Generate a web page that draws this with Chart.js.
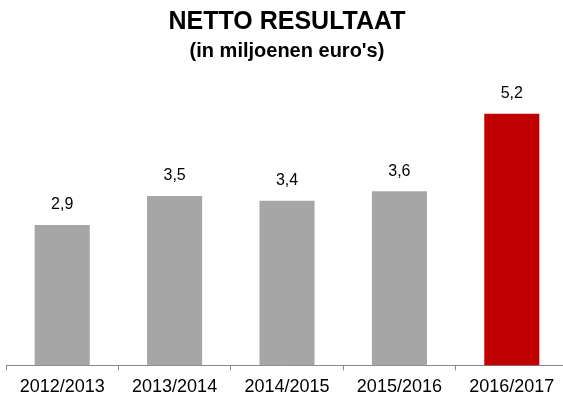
<!DOCTYPE html>
<html>
<head>
<meta charset="utf-8">
<script src="https://cdn.jsdelivr.net/npm/chart.js@4/dist/chart.umd.min.js"></script>
<style>
  html, body { margin: 0; padding: 0; background: #fff; overflow: hidden; }
  #wrap { width: 570px; height: 405px; }
</style>
</head>
<body>
<div id="wrap"><canvas id="netto"></canvas></div>
<script>
var categories = ['2012/2013', '2013/2014', '2014/2015', '2015/2016', '2016/2017'];
var values = [2.9, 3.5, 3.4, 3.6, 5.2];
var barColors = ['#a6a6a6', '#a6a6a6', '#a6a6a6', '#a6a6a6', '#c00000'];

Chart.defaults.font.family = '"Liberation Sans", Arial, sans-serif';
Chart.defaults.color = '#000';

// labels above the bars, comma as decimal sign
var valueLabels = {
  id: 'valueLabels',
  afterDatasetsDraw: function(chart) {
    var ctx = chart.ctx;
    var meta = chart.getDatasetMeta(0);
    ctx.save();
    ctx.font = '16px "Liberation Sans", Arial, sans-serif';
    ctx.fillStyle = '#000';
    ctx.textAlign = 'center';
    ctx.textBaseline = 'middle';
    meta.data.forEach(function(bar, i) {
      ctx.fillText(values[i].toFixed(1).replace('.', ','), bar.x, bar.y - 20);
    });
    ctx.restore();
  }
};

var ctx = document.getElementById('netto');
var myChart = new Chart(ctx, {
  type: 'bar',
  data: {
    labels: categories,
    datasets: [{
      data: values,
      backgroundColor: barColors,
      borderWidth: 0,
      barPercentage: 0.49,
      categoryPercentage: 1
    }]
  },
  options: {
    responsive: true,
    maintainAspectRatio: false,
    animation: false,
    layout: { padding: { left: 6, right: 2, top: 0, bottom: 1 } },
    plugins: {
      legend: { display: false },
      tooltip: { enabled: false },
      title: {
        display: true,
        text: 'NETTO RESULTAAT',
        font: { size: 25, weight: 'bold' },
        color: '#000',
        padding: { top: 7, bottom: 0 }
      },
      subtitle: {
        display: true,
        text: "(in miljoenen euro's)",
        font: { size: 20, weight: 'bold' },
        color: '#000',
        padding: { top: 2, bottom: 12 }
      }
    },
    scales: {
      x: {
        grid: {
          display: true,
          offset: true,
          drawOnChartArea: false,
          drawTicks: true,
          tickLength: 5,
          color: '#888888'
        },
        border: { display: true, color: '#888888', width: 1 },
        ticks: { font: { size: 18 }, color: '#000', padding: 6, maxRotation: 0 }
      },
      y: {
        display: false,
        min: 0,
        max: 6
      }
    }
  },
  plugins: [valueLabels]
});
</script>
</body>
</html>
